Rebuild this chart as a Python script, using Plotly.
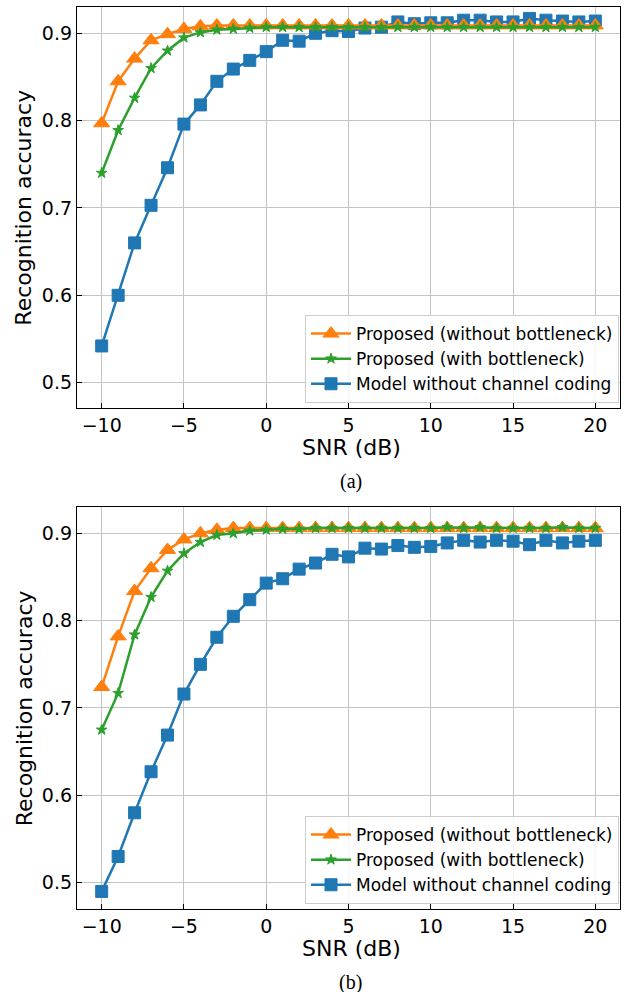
import plotly.graph_objects as go

snr = [-10, -9, -8, -7, -6, -5, -4, -3, -2, -1, 0, 1, 2, 3, 4, 5, 6, 7, 8, 9, 10,
       11, 12, 13, 14, 15, 16, 17, 18, 19, 20]

# (a)
a_no_bottleneck = [0.797, 0.845, 0.871, 0.892, 0.899, 0.905, 0.908, 0.909, 0.909, 0.909, 0.909,
                   0.909, 0.909, 0.909, 0.909, 0.909, 0.909, 0.909, 0.909, 0.909, 0.909,
                   0.909, 0.909, 0.909, 0.909, 0.909, 0.909, 0.909, 0.909, 0.909, 0.909]
a_bottleneck = [0.740, 0.789, 0.826, 0.860, 0.880, 0.895, 0.901, 0.904, 0.905, 0.906, 0.907,
                0.907, 0.907, 0.907, 0.907, 0.907, 0.907, 0.907, 0.907, 0.907, 0.907,
                0.907, 0.907, 0.907, 0.907, 0.907, 0.907, 0.907, 0.907, 0.907, 0.907]
a_no_coding = [0.542, 0.600, 0.660, 0.703, 0.746, 0.796, 0.818, 0.845, 0.859, 0.869, 0.879,
               0.892, 0.891, 0.900, 0.903, 0.902, 0.906, 0.907, 0.913, 0.911, 0.912,
               0.912, 0.915, 0.915, 0.913, 0.913, 0.917, 0.915, 0.914, 0.913, 0.914]

# (b)
b_no_bottleneck = [0.724, 0.782, 0.834, 0.860, 0.881, 0.893, 0.900, 0.904, 0.906, 0.906, 0.906,
                   0.906, 0.906, 0.906, 0.906, 0.906, 0.906, 0.906, 0.906, 0.906, 0.906,
                   0.906, 0.906, 0.906, 0.906, 0.906, 0.906, 0.906, 0.906, 0.906, 0.906]
b_bottleneck = [0.675, 0.717, 0.784, 0.827, 0.857, 0.877, 0.890, 0.898, 0.900, 0.903, 0.904,
                0.905, 0.905, 0.906, 0.906, 0.906, 0.906, 0.906, 0.906, 0.906, 0.906,
                0.907, 0.906, 0.907, 0.906, 0.906, 0.906, 0.906, 0.907, 0.906, 0.906]
b_no_coding = [0.490, 0.530, 0.580, 0.627, 0.669, 0.716, 0.750, 0.781, 0.805, 0.824, 0.843,
               0.848, 0.859, 0.866, 0.876, 0.873, 0.883, 0.882, 0.886, 0.884, 0.885,
               0.889, 0.892, 0.890, 0.892, 0.891, 0.887, 0.892, 0.889, 0.891, 0.892]

names = ["Proposed (without bottleneck)", "Proposed (with bottleneck)", "Model without channel coding"]
colors = ["#ff7f0e", "#2ca02c", "#1f77b4"]
symbols = ["triangle-up", "star", "square"]
msizes = [14, 8, 12]

W, H = 635, 992
ax_left, ax_right = 77, 620
panels = [
    dict(top=7, bottom=408.3, data=[a_no_bottleneck, a_bottleneck, a_no_coding], cap="(a)"),
    dict(top=507.3, bottom=909.3, data=[b_no_bottleneck, b_bottleneck, b_no_coding], cap="(b)"),
]

fig = go.Figure()
FONT = "DejaVu Sans"

for p_i, p in enumerate(panels):
    xa = "x" if p_i == 0 else "x2"
    ya = "y" if p_i == 0 else "y2"
    leg = "legend" if p_i == 0 else "legend2"
    # draw order: blue, orange, green
    for k in [2, 0, 1]:
        fig.add_trace(go.Scatter(
            x=snr, y=p["data"][k], mode="lines+markers", name=names[k],
            line=dict(color=colors[k], width=2.5),
            marker=dict(symbol=symbols[k], size=msizes[k], color=colors[k],
                        line=dict(color=colors[k], width=1)),
            xaxis=xa, yaxis=ya, legend=leg, legendrank=k + 1,
        ))

axis_common = dict(
    showline=True, linecolor="black", linewidth=1.3, mirror=True,
    ticks="inside", ticklen=5, tickwidth=1.2, tickcolor="black",
    showgrid=True, gridcolor="#c4c4c4", gridwidth=1.2, zeroline=False,
    tickfont=dict(family=FONT, size=19, color="black"),
)

for p_i, p in enumerate(panels):
    suffix = "" if p_i == 0 else "2"
    ydom = [1 - p["bottom"] / H, 1 - p["top"] / H]
    xdom = [ax_left / W, ax_right / W]
    fig.update_layout(**{
        "xaxis" + suffix: dict(domain=xdom, range=[-11.5, 21.5], tickvals=[-10, -5, 0, 5, 10, 15, 20],
                               anchor="y" + suffix, **axis_common),
        "yaxis" + suffix: dict(domain=ydom,
                               range=[0.4706, 0.9301] if p_i == 0 else [0.4695, 0.9298],
                               tickvals=[0.5, 0.6, 0.7, 0.8, 0.9], ticktext=["0.5", "0.6", "0.7", "0.8", "0.9"],
                               anchor="x" + suffix, **axis_common),
    })
    mid_x = (ax_left + ax_right) / 2 / W
    fig.add_annotation(text="SNR (dB)", xref="paper", yref="paper", x=mid_x + 3 / W,
                       y=1 - (p["bottom"] + 39.5) / H, showarrow=False,
                       font=dict(family=FONT, size=22, color="black"), xanchor="center", yanchor="middle")
    fig.add_annotation(text="Recognition accuracy", xref="paper", yref="paper", x=24 / W,
                       y=1 - (p["top"] + p["bottom"]) / 2 / H, showarrow=False, textangle=-90,
                       font=dict(family=FONT, size=22, color="black"), xanchor="center", yanchor="middle")
    fig.add_annotation(text=p["cap"], xref="paper", yref="paper", x=351 / W,
                       y=1 - (p["bottom"] + 73) / H, showarrow=False,
                       font=dict(family="Liberation Serif", size=20, color="black"),
                       xanchor="center", yanchor="middle")

legend_common = dict(
    xanchor="right", yanchor="bottom", x=619 / W,
    bgcolor="rgba(255,255,255,0.85)", bordercolor="#cccccc", borderwidth=1,
    font=dict(family=FONT, size=17, color="black"),
    traceorder="normal", itemwidth=40, tracegroupgap=0,
)
fig.update_layout(
    width=W, height=H, margin=dict(l=0, r=0, t=0, b=0),
    paper_bgcolor="white", plot_bgcolor="white",
    legend=dict(y=1 - 403 / H, **legend_common),
    legend2=dict(y=1 - 904 / H, **legend_common),
)

fig.write_html("out.html")
